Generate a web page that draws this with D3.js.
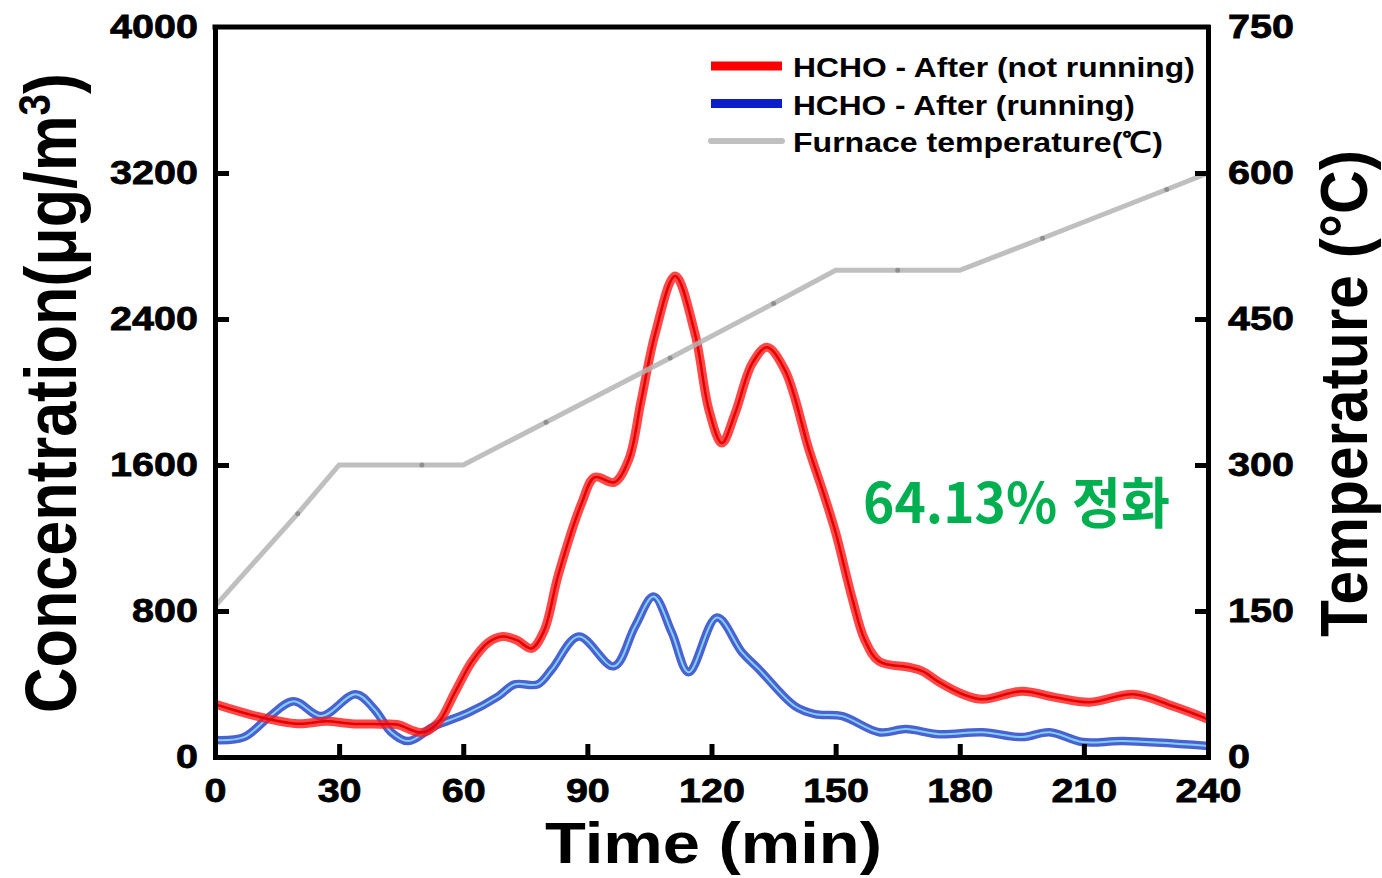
<!DOCTYPE html>
<html lang="ko">
<head>
<meta charset="UTF-8">
<title>HCHO concentration vs time</title>
<script src="https://d3js.org/d3.v7.min.js"></script>
<style>
    body { margin: 0; background: #fff; }
    svg text { font-family: "Liberation Sans", Arial, sans-serif; font-weight: bold; fill: #000; }
    .axis path, .axis line { stroke: #000; stroke-width: 5; }
</style>
</head>
<body>
<svg id="chart" width="1382" height="878"></svg>
<script>
// data
const redTime = [0, 10, 20, 27, 33, 40, 44, 50, 54, 58, 62, 66, 69.5, 73, 76.5, 79.5, 83, 88.6, 91.8, 96.5, 100, 103, 106.4, 111.2, 116, 119.4, 122.5, 125.7, 129.8, 133.4, 137.8, 143.6, 147, 150, 154, 157, 160.5, 167.8, 171, 175, 180.7, 185.5, 195, 203, 211.4, 222, 231.6, 240];
const redConc = [290, 224, 182, 196, 182, 180, 178, 134, 190, 355, 520, 627, 660, 640, 595, 690, 1000, 1390, 1533, 1505, 1630, 1953, 2320, 2636, 2320, 1900, 1720, 1883, 2155, 2245, 2117, 1681, 1450, 1230, 870, 644, 524, 491, 470, 410, 344, 316, 360, 327, 300, 344, 278, 207];

const blueTime = [0, 7, 13, 19, 25.7, 34, 38.5, 42.6, 46.7, 53, 61, 68.5, 72.4, 78, 81.4, 87.9, 96.4, 101.5, 106, 110.4, 114.5, 121.3, 127.4, 131.5, 140.2, 145, 151.6, 160.5, 167, 175, 185.5, 195, 201.7, 209.7, 219.5, 240];
const blueConc = [93, 109, 218, 306, 224, 344, 262, 136, 87, 169, 240, 333, 398, 398, 480, 660, 497, 715, 879, 682, 464, 764, 573, 480, 278, 235, 224, 136, 153, 125, 136, 109, 136, 82, 87, 60];

const tempTime = [0, 20, 30, 50, 60, 80, 110, 135, 150, 165, 180, 200, 230, 240];
const tempVal = [155, 250, 300, 300, 300, 344, 410, 466, 500, 500, 500, 533, 583, 600];
const tempDots = [20, 50, 80, 110, 135, 165, 200, 230];

const xTicks = [0, 30, 60, 90, 120, 150, 180, 210, 240];
const yTicks = [0, 800, 1600, 2400, 3200, 4000];
const tTicks = [0, 150, 300, 450, 600, 750];

const legendNames = ["HCHO - After (not running)", "HCHO - After (running)", "Furnace temperature(℃)"];
const legendWidths = [402, 342, 370];

const svg = d3.select("#chart");
const L = 215, R = 1208, T = 27, B = 757;

const x = d3.scaleLinear().domain([0, 240]).range([L, R]);
const y = d3.scaleLinear().domain([0, 4000]).range([B, T]);
const yT = d3.scaleLinear().domain([0, 750]).range([B, T]);

// stretch a text element to a target length (around its own origin)
function fit(sel, w, h, pre) {
    sel.each(function () {
        const len = this.getComputedTextLength();
        d3.select(this).attr("transform", `${pre || ""} scale(${w / len},${h || 1})`);
    });
}

svg.append("clipPath").attr("id", "clip")
    .append("rect").attr("x", L).attr("y", T).attr("width", R - L).attr("height", B - T);

const plot = svg.append("g").attr("clip-path", "url(#clip)");

const red = redTime.map((t, i) => [t, redConc[i]]);
const blue = blueTime.map((t, i) => [t, blueConc[i]]);
const temp = tempTime.map((t, i) => [t, tempVal[i]]);

const lineC = d3.line().x(d => x(d[0])).y(d => y(d[1])).curve(d3.curveCatmullRom.alpha(0.5));
const lineT = d3.line().x(d => x(d[0])).y(d => yT(d[1]));

// blue
plot.append("path").datum(blue).attr("d", lineC).attr("fill", "none")
    .attr("stroke", "#2a45c8").attr("stroke-opacity", 0.85).attr("stroke-width", 8.5);
plot.append("path").datum(blue).attr("d", lineC).attr("fill", "none")
    .attr("stroke", "#7fd0ff").attr("stroke-width", 2);

// red
plot.append("path").datum(red).attr("d", lineC).attr("fill", "none")
    .attr("stroke", "#ff1a1a").attr("stroke-opacity", 0.8).attr("stroke-width", 9);
plot.append("path").datum(red).attr("d", lineC).attr("fill", "none")
    .attr("stroke", "#e60000").attr("stroke-width", 2.5);

// furnace temperature
plot.append("path").datum(temp).attr("d", lineT).attr("fill", "none")
    .attr("stroke", "#b4b4b4").attr("stroke-opacity", 0.85).attr("stroke-width", 5);
plot.selectAll(".tdot").data(temp.filter(d => tempDots.includes(d[0]))).enter()
    .append("circle").attr("class", "tdot")
    .attr("cx", d => x(d[0])).attr("cy", d => yT(d[1])).attr("r", 2.5)
    .attr("fill", "#7a7a7a").attr("opacity", 0.7);

// axes, ticks pointing inward
const fmt = d3.format("d");
const gx = svg.append("g").attr("class", "axis").attr("transform", `translate(0,${B})`)
    .call(d3.axisBottom(x).tickValues(xTicks).tickFormat(fmt).tickSizeInner(-13).tickSizeOuter(0).tickPadding(21));
const gy = svg.append("g").attr("class", "axis").attr("transform", `translate(${L},0)`)
    .call(d3.axisLeft(y).tickValues(yTicks).tickFormat(fmt).tickSizeInner(-14).tickSizeOuter(0).tickPadding(17));
const gr = svg.append("g").attr("class", "axis").attr("transform", `translate(${R},0)`)
    .call(d3.axisRight(yT).tickValues(tTicks).tickFormat(fmt).tickSizeInner(-13).tickSizeOuter(0).tickPadding(20));
svg.append("line").attr("x1", L - 2.5).attr("x2", R + 2.5).attr("y1", T).attr("y2", T)
    .attr("stroke", "#000").attr("stroke-width", 5);

[gx, gy, gr].forEach(g => g.select(".domain").attr("stroke-linecap", "square"));
gy.selectAll(".tick").filter(d => d === 4000 || d === 0).select("line").remove();
gr.selectAll(".tick").filter(d => d === 750 || d === 0).select("line").remove();
gx.selectAll(".tick").filter(d => d === 0 || d === 240).select("line").remove();

function styleTicks(g) {
    g.selectAll(".tick text")
        .attr("font-size", 34).attr("fill", "#000")
        .attr("stroke", "#000").attr("stroke-width", 0.8)
        .attr("font-family", "'Liberation Sans', Arial, sans-serif")
        .attr("font-weight", "bold")
        .each(function (d) {
            const s = d3.select(this);
            const px = +s.attr("x") || 0, py = +s.attr("y") || 0;
            s.attr("x", 0).attr("y", 0);
            fit(s, fmt(d).length * 22, 1, `translate(${px},${py})`);
        });
}
styleTicks(gx);
styleTicks(gy);
styleTicks(gr);

// axis titles
svg.append("text").attr("text-anchor", "middle").attr("font-size", 57)
    .text("Time (min)")
    .call(fit, 337, 1, `translate(${(545 + 882) / 2},863)`);

const yl = svg.append("text").attr("text-anchor", "middle").attr("font-size", 72);
yl.append("tspan").text("Concentration(μg/m");
yl.append("tspan").attr("font-size", 44).attr("dy", -26).text("3");
yl.append("tspan").attr("dy", 26).text(")");
yl.call(fit, 640, 1, `translate(76,${(713 + 73) / 2}) rotate(-90)`);

svg.append("text").attr("text-anchor", "middle").attr("font-size", 66)
    .text("Temperature (°C)")
    .call(fit, 487, 1, `translate(1367,${(637 + 150) / 2}) rotate(-90)`);

// legend
const legColors = ["#ff0000", "#0a1fc8", "#c0c0c0"];
legendNames.forEach((name, i) => {
    const row = svg.append("g").attr("transform", `translate(0,${66 + i * 37.5})`);
    if (i < 2) {
        row.append("rect").attr("x", 711).attr("y", -4.5).attr("width", 71).attr("height", 9)
            .attr("fill", legColors[i]);
    } else {
        row.append("line").attr("x1", 711).attr("x2", 782).attr("y1", 0).attr("y2", 0)
            .attr("stroke", legColors[i]).attr("stroke-width", 6).attr("stroke-linecap", "round");
    }
    row.append("text").attr("font-size", 28).text(name)
        .call(fit, legendWidths[i], 1, "translate(793,11)");
});

// annotation
svg.append("text").attr("font-size", 55)
    .style("font-family", "'Noto Sans CJK KR', 'Noto Sans', sans-serif")
    .attr("fill", "#00b050").style("fill", "#00b050")
    .text("64.13% 정화")
    .call(fit, 307, 1, "translate(863,523)");
</script>
</body>
</html>
